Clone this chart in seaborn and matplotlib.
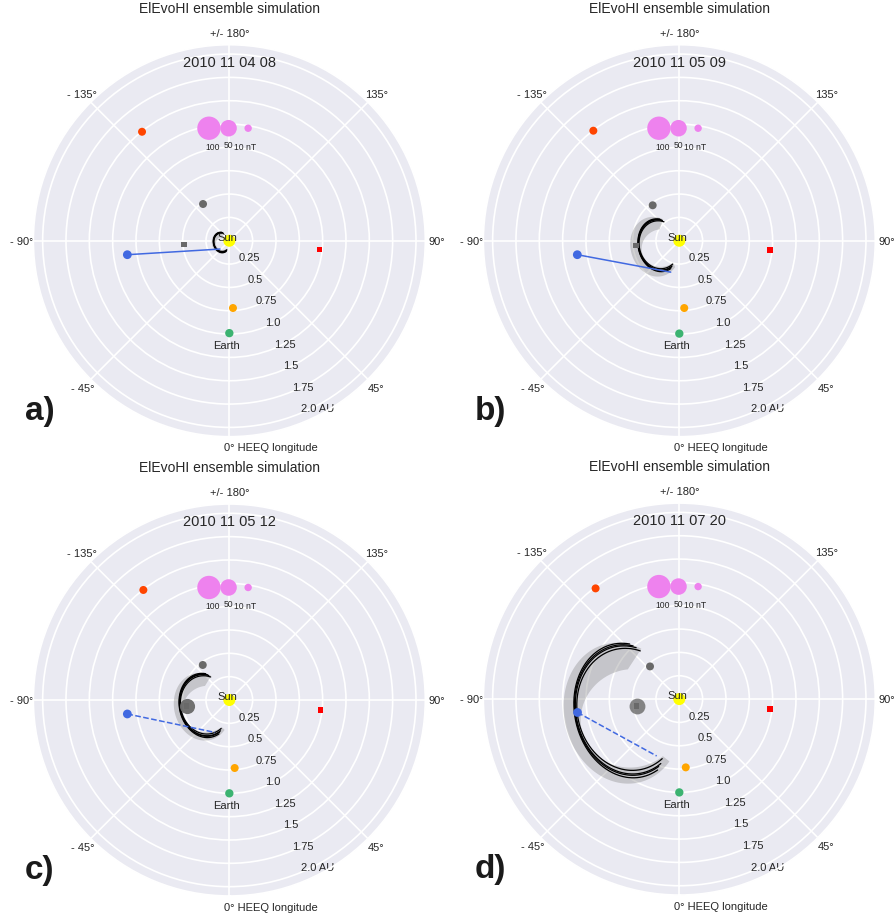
import numpy as np
import pandas as pd
import matplotlib
matplotlib.use("Agg")
import matplotlib.pyplot as plt
import seaborn as sns

sns.set_theme(style="darkgrid")
plt.rcParams["font.family"] = ["Liberation Sans", "DejaVu Sans"]

# ---------------------------------------------------------------- data
panel_tags = ["a)", "b)", "c)", "d)"]
timestamps = ["2010 11 04 08", "2010 11 05 09", "2010 11 05 12", "2010 11 07 20"]

# HEEQ longitude [deg] and heliocentric distance [AU], one value per panel
mercury_lon = [-144.4, -143.1, -142.8, -138.1]
mercury_r = [0.484, 0.475, 0.471, 0.470]
venus_lon = [3.1, 4.2, 4.5, 5.4]
venus_r = [0.722, 0.723, 0.731, 0.735]
earth_lon = [0.0, 0.0, 0.0, 0.0]
earth_r = [0.99, 0.995, 1.0, 1.0]
mars_lon = [-141.3, -142.0, -142.0, -142.9]
mars_r = [1.496, 1.496, 1.496, 1.487]
sta_lon = [84.3, 84.1, 83.9, 83.7]
sta_r = [0.969, 0.977, 0.981, 0.978]
stb_lon = [-82.2, -82.2, -82.2, -82.5]
stb_r = [1.103, 1.103, 1.103, 1.100]
mes_lon = [-85.5, -84.0, -82.0, -81.0]
mes_r = [0.490, 0.467, 0.462, 0.462]
mes_bfield = [0, 0, 42, 46]          # in situ field at MESSENGER [nT]

# CME ensemble members: direction [deg], half width [deg], aspect ratio b/a
member_dir = [-78.0, -77.5, -78.5, -78.0]
member_halfwidth = [62.0, 60.5, 62.5, 61.0]
member_aspect = [0.81, 0.78, 0.84, 0.80]
# apex distance of every member at each time step [AU]
member_apex = [
    [0.170, 0.173, 0.167, 0.171],
    [0.440, 0.446, 0.434, 0.443],
    [0.535, 0.542, 0.528, 0.538],
    [1.120, 1.135, 1.105, 1.128],
]

# envelope of the full ensemble (outer and inner bounding fronts)
spread_outer_apex = [0.19, 0.53, 0.60, 1.25]
spread_inner_apex = [0.15, 0.42, 0.52, 1.10]
spread_outer_shape = (-76.0, 67.0, 0.82)   # direction, half width, aspect
spread_inner_shape = (-68.0, 52.0, 1.05)

# HI line of sight from STEREO-B, end point on the tracked front
los_end_lon = [-48.3, -15.3, -23.9, -21.7]
los_end_r = [0.134, 0.349, 0.380, 0.656]

# field strength scale for the bubbles
legend_bfield = [100, 50, 10]

rgrid_values = [0.25, 0.5, 0.75, 1.0, 1.25, 1.5, 1.75, 2.0]
rgrid_labels = ["0.25", "0.5", "0.75", "1.0", "1.25", "1.5", "1.75", "2.0 AU"]
theta_values = [0, 45, 90, 135, 180, 225, 270, 315]
theta_labels = ["0\u00b0 HEEQ longitude", "45\u00b0", "90\u00b0", "135\u00b0",
                "+/- 180\u00b0", "- 135\u00b0", "- 90\u00b0", "- 45\u00b0"]

# ---------------------------------------------------------------- helpers
BUBBLE_SCALE = 2.83   # marker area (pt^2) per nT


def ellipse_front(apex, direction, halfwidth, aspect, n=240):
    """Elliptical CME front (ElEvoHI geometry), as polar theta/r arrays."""
    alpha = np.radians(np.linspace(-halfwidth, halfwidth, n))
    r = apex * np.cos(alpha) / (np.cos(alpha) ** 2 + aspect ** 2 * np.sin(alpha) ** 2)
    return np.radians(direction) + alpha, r


def straight_segment(lon1, r1, lon2, r2, n=60):
    """Straight line between two heliocentric points, sampled in polar form."""
    x1, y1 = r1 * np.cos(np.radians(lon1)), r1 * np.sin(np.radians(lon1))
    x2, y2 = r2 * np.cos(np.radians(lon2)), r2 * np.sin(np.radians(lon2))
    t = np.linspace(0, 1, n)
    x, y = x1 + (x2 - x1) * t, y1 + (y2 - y1) * t
    return np.arctan2(y, x), np.hypot(x, y)


body_color = {"Mercury": "dimgrey", "Venus": "orange", "Earth": "mediumseagreen",
              "Mars": "orangered", "STEREO-A": "red", "STEREO-B": "royalblue",
              "MESSENGER": "dimgrey", "Sun": "yellow"}
body_marker = {"Mercury": "o", "Venus": "o", "Earth": "o", "Mars": "o",
               "STEREO-A": "s", "STEREO-B": "o", "MESSENGER": "s", "Sun": "o"}
body_size = {"Mercury": 33, "Venus": 33, "Earth": 36, "Mars": 33,
             "STEREO-A": 16, "STEREO-B": 40, "MESSENGER": 16, "Sun": 75}

# ---------------------------------------------------------------- figure
fig = plt.figure(figsize=(8.96, 9.2), dpi=100)
axes_rects = [
    [0.0372, 0.5242, 0.4375, 0.4261],
    [0.5394, 0.5242, 0.4375, 0.4261],
    [0.0372, 0.0250, 0.4375, 0.4261],
    [0.5394, 0.0260, 0.4375, 0.4261],
]
los_dashes = ["-", "-", "--", "--"]
bubble_alpha = [0.9, 0.9, 0.95, 0.8]

for i, rect in enumerate(axes_rects):
    ax = fig.add_axes(rect, projection="polar")
    ax.set_theta_zero_location("S")
    ax.set_facecolor("#EAEAF2")
    ax.grid(True, color="white", linewidth=1.2)

    # ensemble spread
    th_o, r_o = ellipse_front(spread_outer_apex[i], *spread_outer_shape)
    th_i, r_i = ellipse_front(spread_inner_apex[i], *spread_inner_shape)
    ax.fill(np.concatenate([th_o, th_i[::-1]]), np.concatenate([r_o, r_i[::-1]]),
            color="gray", alpha=0.35, lw=0, zorder=2)

    # individual ensemble fronts
    for k in range(len(member_dir)):
        th, r = ellipse_front(member_apex[i][k], member_dir[k],
                              member_halfwidth[k], member_aspect[k])
        ax.plot(th, r, color="black", lw=0.9, zorder=3)

    # HI line of sight
    th, r = straight_segment(stb_lon[i], stb_r[i], los_end_lon[i], los_end_r[i])
    ax.plot(th, r, color="royalblue", lw=1.1, ls=los_dashes[i], zorder=3.5)

    # planets and spacecraft
    bodies = pd.DataFrame({
        "body": ["Mercury", "Venus", "Earth", "Mars", "STEREO-A", "STEREO-B",
                 "MESSENGER", "Sun"],
        "lon": [mercury_lon[i], venus_lon[i], earth_lon[i], mars_lon[i],
                sta_lon[i], stb_lon[i], mes_lon[i], 0.0],
        "r": [mercury_r[i], venus_r[i], earth_r[i], mars_r[i],
              sta_r[i], stb_r[i], mes_r[i], 0.0],
    })
    bodies["theta"] = np.radians(bodies["lon"])
    sns.scatterplot(data=bodies, x="theta", y="r", hue="body", palette=body_color,
                    style="body", markers=body_marker, size="body", sizes=body_size,
                    linewidth=0, legend=False, ax=ax, zorder=4)
    ax.set(xlabel="", ylabel="")

    # magnetic field bubble at MESSENGER
    if mes_bfield[i] > 0:
        ax.scatter(np.radians(mes_lon[i]), mes_r[i], s=BUBBLE_SCALE * mes_bfield[i],
                   color="dimgrey", alpha=bubble_alpha[i], lw=0, zorder=5)

    # field strength scale
    ax.scatter([0.448, 0.498, 0.548], [0.787] * 3,
               s=[BUBBLE_SCALE * b for b in legend_bfield], color="violet",
               lw=0, transform=ax.transAxes, zorder=5)
    for x, y, txt in zip([0.457, 0.4985, 0.541], [0.741, 0.745, 0.741],
                         ["100", "50", "10 nT"]):
        ax.text(x, y, txt, transform=ax.transAxes, ha="center", va="center",
                fontsize=6.2, color=".15")

    ax.annotate("Sun", xy=(0, 0), xytext=(-1.1, 2.9), textcoords="offset points",
                ha="center", va="center", fontsize=8, color=".15", zorder=6)
    ax.annotate("Earth", xy=(np.radians(earth_lon[i]), earth_r[i]),
                xytext=(-1.7, -8.4), textcoords="offset points",
                ha="center", va="center", fontsize=8, color=".15")

    # grids and tick labels
    ax.set_rgrids(rgrid_values, labels=rgrid_labels, angle=22.5)
    ax.set_thetagrids(theta_values, labels=[""] + theta_labels[1:])
    ax.tick_params(axis="x", pad=1.6, length=0, labelsize=8, colors=".15")
    ax.tick_params(axis="y", labelsize=8, colors=".15")
    ax.annotate(theta_labels[0], xy=(0, 2.1), xytext=(-3.8, -7.6),
                textcoords="offset points", ha="left", va="center",
                fontsize=8, color=".15", annotation_clip=False)
    ax.set_xlim(0, 2 * np.pi)
    ax.set_ylim(0, 2.1)

    ax.text(0.5, 1.0936, "ElEvoHI ensemble simulation", transform=ax.transAxes,
            ha="center", va="center", fontsize=10, color=".15")
    ax.text(0.5, 0.957, timestamps[i], transform=ax.transAxes,
            ha="center", va="center", fontsize=10.5, color=".15")
    ax.text(0.017, 0.068, panel_tags[i], transform=ax.transAxes,
            ha="center", va="center", fontsize=24, fontweight="bold", color=".1")

fig.savefig("out.png", dpi=100, facecolor="white")
